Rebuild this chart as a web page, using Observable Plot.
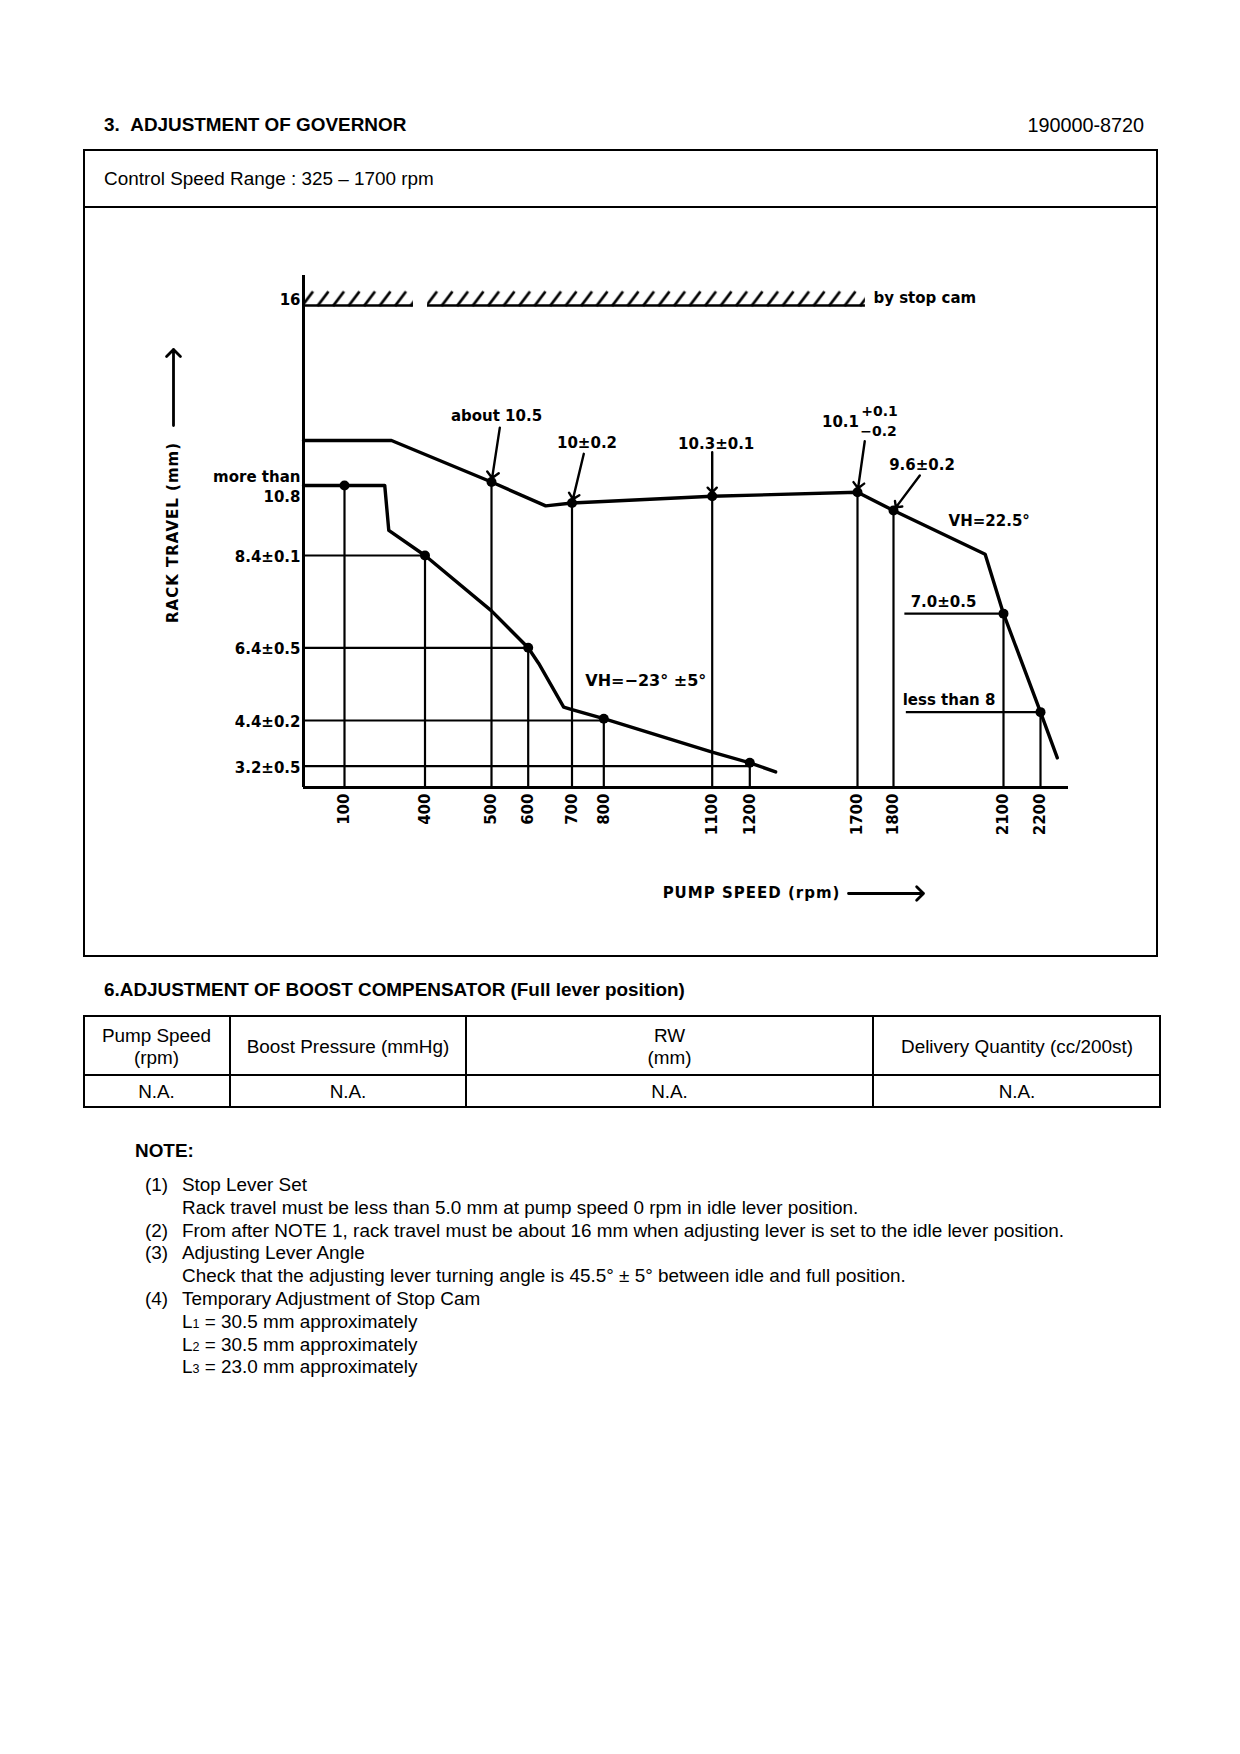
<!DOCTYPE html>
<html><head><meta charset="utf-8">
<script src="https://cdn.jsdelivr.net/npm/d3@7"></script>
<script src="https://cdn.jsdelivr.net/npm/@observablehq/plot@0.6"></script>
<style>
body{margin:0;background:#fff;}
#page{position:relative;width:1240px;height:1754px;background:#fff;font-family:"Liberation Sans",Arial,sans-serif;color:#000;overflow:hidden}
.t{position:absolute;white-space:nowrap;line-height:24px;height:24px;font-size:18.9px}
.b{font-weight:bold}
.ln{position:absolute;background:#000}
.c{text-align:center}
.sub{font-size:12.5px}
#chart{position:absolute;left:83px;top:207px;width:1075px;height:750px}
</style></head>
<body><div id="page">
<div id="chart"></div>
<div class="t b" style="left:104px;top:113px">3.&nbsp;&nbsp;ADJUSTMENT OF GOVERNOR</div>
<div class="t" style="right:96px;top:113px;font-size:19.8px">190000-8720</div>
<div style="position:absolute;left:83px;top:149px;width:1075px;height:808px;border:2px solid #000;box-sizing:border-box"></div>
<div class="ln" style="left:83px;top:206px;width:1075px;height:2px"></div>
<div class="t" style="left:104px;top:167px">Control Speed Range : 325 – 1700 rpm</div>

<div class="t b" style="left:104px;top:978px">6.ADJUSTMENT OF BOOST COMPENSATOR (Full lever position)</div>
<div style="position:absolute;left:83px;top:1015px;width:1078px;height:93px;border:2px solid #000;box-sizing:border-box"></div>
<div class="ln" style="left:83px;top:1074px;width:1078px;height:2px"></div>
<div class="ln" style="left:229px;top:1015px;width:2px;height:93px"></div>
<div class="ln" style="left:465px;top:1015px;width:2px;height:93px"></div>
<div class="ln" style="left:872px;top:1015px;width:2px;height:93px"></div>
<div class="t c" style="left:83px;width:147px;top:1023.5px">Pump Speed</div>
<div class="t c" style="left:83px;width:147px;top:1046px">(rpm)</div>
<div class="t c" style="left:230px;width:236px;top:1034.5px">Boost Pressure (mmHg)</div>
<div class="t c" style="left:466px;width:407px;top:1023.5px">RW</div>
<div class="t c" style="left:466px;width:407px;top:1046px">(mm)</div>
<div class="t c" style="left:873px;width:288px;top:1034.5px">Delivery Quantity (cc/200st)</div>
<div class="t c" style="left:83px;width:147px;top:1080px">N.A.</div>
<div class="t c" style="left:230px;width:236px;top:1080px">N.A.</div>
<div class="t c" style="left:466px;width:407px;top:1080px">N.A.</div>
<div class="t c" style="left:873px;width:288px;top:1080px">N.A.</div>

<div class="t b" style="left:135px;top:1139px">NOTE:</div>
<div class="t" style="left:145px;top:1173px">(1)</div>
<div class="t" style="left:182px;top:1173px">Stop Lever Set</div>
<div class="t" style="left:182px;top:1196px">Rack travel must be less than 5.0 mm at pump speed 0 rpm in idle lever position.</div>
<div class="t" style="left:145px;top:1218.5px">(2)</div>
<div class="t" style="left:182px;top:1218.5px">From after NOTE 1, rack travel must be about 16 mm when adjusting lever is set to the idle lever position.</div>
<div class="t" style="left:145px;top:1241px">(3)</div>
<div class="t" style="left:182px;top:1241px">Adjusting Lever Angle</div>
<div class="t" style="left:182px;top:1264px">Check that the adjusting lever turning angle is 45.5° ± 5° between idle and full position.</div>
<div class="t" style="left:145px;top:1286.5px">(4)</div>
<div class="t" style="left:182px;top:1286.5px">Temporary Adjustment of Stop Cam</div>
<div class="t" style="left:182px;top:1310px">L<span class="sub">1</span> = 30.5 mm approximately</div>
<div class="t" style="left:182px;top:1332.5px">L<span class="sub">2</span> = 30.5 mm approximately</div>
<div class="t" style="left:182px;top:1355px">L<span class="sub">3</span> = 23.0 mm approximately</div>
</div>
<script>
// ---- data (pump speed in rpm, rack travel in mm) ----
const rpmTicks = [100, 400, 500, 600, 700, 800, 1100, 1200, 1700, 1800, 2100, 2200];
const rackTickValues = [16, 10.8, 8.4, 6.4, 4.4, 3.2];
const rackTickLabels = ["16", "more than\n10.8", "8.4±0.1", "6.4±0.5", "4.4±0.2", "3.2±0.5"];

const fullLoadRpm  = [0, 100, 250, 265, 400, 500, 600, 624, 681, 700, 800, 1100, 1200, 1320];
const fullLoadRack = [10.8, 10.8, 10.8, 9.26, 8.4, 7.2, 6.4, 5.97, 4.77, 4.7, 4.45, 3.57, 3.29, 2.34];

const governorRpm  = [0, 275, 500, 640, 700, 1100, 1700, 1800, 2050, 2100, 2200, 2245];
const governorRack = [12.1, 12.1, 10.9, 10.1, 10.2, 10.43, 10.57, 9.94, 8.44, 7.14, 4.63, 3.42];

const checkRpm  = [100, 400, 500, 600, 700, 800, 1100, 1200, 1700, 1800, 2100, 2200];
const checkRack = [10.8, 8.4, 10.9, 6.4, 10.2, 4.45, 10.43, 3.29, 10.57, 9.94, 7.14, 4.63];

const leftLevelRack  = [8.4, 6.4, 4.4, 3.2];
const leftLevelToRpm = [400, 600, 800, 1200];
const rightLevelRack    = [7.14, 4.63];
const rightLevelFromRpm = [1831, 1835];
const rightLevelToRpm   = [2100, 2200];

const stopCamRack = 16;
const stopCamFromRpm = [0, 404];
const stopCamToRpm = [357, 1722];

const noteTexts = ["about 10.5", "10±0.2", "10.3±0.1", "10.1", "+0.1", "−0.2", "9.6±0.2", "VH=22.5°", "VH=−23° ±5°", "7.0±0.5", "less than 8"];
const noteRpm   = [500, 700, 1100, 1700, 1700, 1700, 1800, 1800, 800, 2100, 2200];
const noteRack  = [10.9, 10.2, 10.43, 10.57, 10.57, 10.57, 9.94, 9.94, 4.45, 7.14, 4.63];

const arrowRpm  = [500, 700, 1100, 1700, 1800];
const arrowRack = [10.9, 10.2, 10.43, 10.57, 9.94];

const rpmMax = 2275;
const rackAxisTop = 16.87;

// ---- tables for the library ----
const fullLoad = fullLoadRpm.map((rpm, i) => ({rpm, rack: fullLoadRack[i]}));
const governor = governorRpm.map((rpm, i) => ({rpm, rack: governorRack[i]}));
const checks = checkRpm.map((rpm, i) => ({rpm, rack: checkRack[i]}));
const leftLevels = leftLevelRack.map((rack, i) => ({rack, to: leftLevelToRpm[i]}));
const rightLevels = rightLevelRack.map((rack, i) => ({rack, from: rightLevelFromRpm[i], to: rightLevelToRpm[i]}));
const stopCam = stopCamFromRpm.map((from, i) => ({rack: stopCamRack, from, to: stopCamToRpm[i]}));
const rackTicks = rackTickValues.map((value, i) => ({value, label: rackTickLabels[i]}));

// label placement (pixel offsets from the point each label belongs to)
const noteOffsets = [[5,-66],[15,-60],[4,-52.5],[-17,-70],[22,-81],[21,-60.7],[28.5,-45],[95.7,10.6],[42,-38],[-60,-11.5],[-91.5,-12.3]];
const noteSizes = [15,15,15,15,14,14,15,15,16,15,15];
const arrowGeom = [[55,188.7],[50.6,193.5],[44,180],[51.5,188.1],[43.9,216.8]];

const marks = [
  Plot.ruleY(stopCam, {y: "rack", x1: "from", x2: "to", stroke: "url(#stopcam-hatch)", strokeWidth: 34}),
  Plot.ruleY(stopCam, {y: "rack", x1: "from", x2: "to", strokeWidth: 2.6}),
  Plot.text(["by stop cam"], {x: stopCamToRpm[1], y: stopCamRack, textAnchor: "start", dx: 8, dy: -7}),
  Plot.ruleX([0], {y1: 0, y2: rackAxisTop, strokeWidth: 3}),
  Plot.ruleY([0], {x1: 0, x2: rpmMax, strokeWidth: 3}),
  Plot.ruleY(leftLevels, {y: "rack", x1: 0, x2: "to", strokeWidth: 2.2}),
  Plot.ruleY(rightLevels, {y: "rack", x1: "from", x2: "to", strokeWidth: 2.2}),
  Plot.ruleX(checks, {x: "rpm", y1: 0, y2: "rack", strokeWidth: 2.2}),
  Plot.line(fullLoad, {x: "rpm", y: "rack", strokeWidth: 3.4, strokeLinejoin: "round"}),
  Plot.line(governor, {x: "rpm", y: "rack", strokeWidth: 3.4, strokeLinejoin: "round"}),
  Plot.dot(checks, {x: "rpm", y: "rack", r: 5, fill: "black"}),
  Plot.text(rackTicks.slice(0, 1), {x: 0, y: "value", text: "label", textAnchor: "end", dx: -3, dy: -5}),
  Plot.text(rackTicks.slice(1), {x: 0, y: "value", text: "label", textAnchor: "end", dx: -3, lineHeight: 1.35}),
  ...noteTexts.map((t, i) => Plot.text([t], {x: noteRpm[i], y: noteRack[i], dx: noteOffsets[i][0], dy: noteOffsets[i][1], fontSize: noteSizes[i]})),
  ...arrowRpm.map((rpm, i) => {
    const [len, rot] = arrowGeom[i];
    const a = rot * Math.PI / 180, gap = 4;
    return Plot.vector([0], {x: rpm, y: arrowRack[i], length: len - gap, rotate: rot, anchor: "end", r: 2, strokeWidth: 2.4,
      dx: -Math.sin(a) * gap, dy: Math.cos(a) * gap});
  }),
  Plot.text(["RACK TRAVEL (mm)"], {frameAnchor: "top-left", dx: -130, dy: 227, rotate: -90, textAnchor: "middle", lineAnchor: "middle"}),
  Plot.vector([0], {frameAnchor: "top-left", dx: -130, dy: 120, length: 76, rotate: 0, anchor: "start", r: 1.6, strokeWidth: 2.8}),
  Plot.text(["PUMP SPEED (rpm)"], {frameAnchor: "top-left", dx: 448, dy: 588, textAnchor: "middle", lineAnchor: "middle"}),
  Plot.vector([0], {frameAnchor: "top-left", dx: 545, dy: 588, length: 75, rotate: 90, anchor: "start", r: 1.6, strokeWidth: 2.8})
];

const svg = Plot.plot({
  width: 1075, height: 750,
  marginLeft: 220, marginRight: 90, marginTop: 98, marginBottom: 170,
  style: {background: "transparent", fontFamily: "'DejaVu Sans', sans-serif", fontWeight: "bold", fontSize: "15px", color: "black", overflow: "visible"},
  x: {type: "linear",
      domain: [0, 100, 400, 500, 600, 700, 800, 1100, 1200, 1700, 1800, 2100, 2200, rpmMax],
      range: [220, 261, 341.5, 408, 444.7, 488.5, 520.3, 628.7, 666.3, 774, 810, 920, 957, 985],
      ticks: rpmTicks, tickFormat: d => String(d), tickRotate: -90, tickSize: 0, tickPadding: 6, label: null},
  y: {type: "linear",
      domain: [0, 3.2, 4.4, 6.4, 8.4, 10.8, 16],
      range: [580, 558.7, 513, 440.3, 348, 278, 98],
      axis: null},
  marks
});

// hatch paint for the stop-cam limit
const y16 = svg.scale("y").apply(stopCamRack);
const pat = d3.select(svg).insert("defs", ":first-child").append("pattern")
  .attr("id", "stopcam-hatch").attr("patternUnits", "userSpaceOnUse")
  .attr("x", 0).attr("y", 0).attr("width", 15.5).attr("height", 1000);
pat.append("line").attr("x1", 2).attr("y1", y16 + 0.5).attr("x2", 13).attr("y2", y16 - 14)
  .attr("stroke", "black").attr("stroke-width", 2.8);

d3.select(svg).selectAll("text").each(function () {
  const s = this.textContent;
  if (s.startsWith("RACK") || s.startsWith("PUMP")) this.setAttribute("letter-spacing", "1");
});

document.getElementById("chart").appendChild(svg);
</script>
</body></html>
